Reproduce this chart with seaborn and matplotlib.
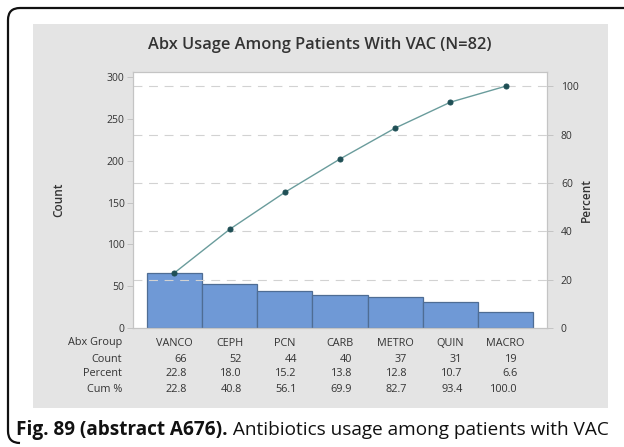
import matplotlib
matplotlib.use("Agg")
import matplotlib.pyplot as plt
import matplotlib.patches as mpatches
from matplotlib.path import Path
from matplotlib.transforms import blended_transform_factory
import seaborn as sns
import pandas as pd

# Pareto data: antibiotic groups, counts and percentages
groups = ["VANCO", "CEPH", "PCN", "CARB", "METRO", "QUIN", "MACRO"]
counts = [66, 52, 44, 40, 37, 31, 19]
percent = [22.8, 18.0, 15.2, 13.8, 12.8, 10.7, 6.6]
cum_pct = [22.8, 40.8, 56.1, 69.9, 82.7, 93.4, 100.0]
count_ticks = [0, 50, 100, 150, 200, 250, 300]
pct_ticks = [0, 20, 40, 60, 80, 100]

title = "Abx Usage Among Patients With VAC (N=82)"
caption_bold = "Fig. 89 (abstract A676)."
caption_text = " Antibiotics usage among patients with VAC"

sns.set_theme(style="white")
plt.rcParams["font.family"] = ["Open Sans", "DejaVu Sans"]

W, H = 624, 447
fig = plt.figure(figsize=(W / 100, H / 100), dpi=100)
fig.patch.set_facecolor("white")


def fx(px):
    return px / W


def fy(py):
    return 1 - py / H


# grey chart panel behind the axes
panel = mpatches.Rectangle((fx(33), fy(408)), fx(608) - fx(33), fy(24) - fy(408),
                           transform=fig.transFigure, facecolor="#e4e4e4",
                           edgecolor="none", zorder=-10)
fig.patches.append(panel)

# black frame with rounded left corners
r = 12
verts = [
    (fx(W + 5), fy(8)), (fx(8 + r), fy(8)),
    (fx(8), fy(8)), (fx(8), fy(8 + r)),
    (fx(8), fy(443 - r)),
    (fx(8), fy(443)), (fx(8 + r), fy(443)),
]
codes = [Path.MOVETO, Path.LINETO, Path.CURVE3, Path.CURVE3,
         Path.LINETO, Path.CURVE3, Path.CURVE3]
frame = mpatches.PathPatch(Path(verts, codes), transform=fig.transFigure,
                           facecolor="none", edgecolor="#111111", lw=1.6, zorder=-5)
fig.patches.append(frame)

left, right, top, bottom = 133, 547, 72, 328
ax = fig.add_axes([fx(left), fy(bottom), fx(right) - fx(left), fy(top) - fy(bottom)])
ax.set_facecolor("white")

df = pd.DataFrame({"group": groups, "count": counts, "cum": cum_pct})

sns.barplot(data=df, x="group", y="count", ax=ax, color="#6f99d6",
            width=1.0, edgecolor="#4f6d94", linewidth=0.9, saturation=1, zorder=2)

total = sum(counts)
ymax = 306
ax.set_ylim(0, ymax)
ax.set_xlim(-0.75, len(groups) - 0.25)
ax.set_yticks(count_ticks)
ax.set_xticks([])
ax.set_xlabel("")
ax.set_ylabel("Count", fontsize=8.5, fontweight="semibold", color="#333333", labelpad=30)

ax2 = ax.twinx()
ax2.set_ylim(0, ymax / total * 100)
ax2.set_yticks(pct_ticks)
for t in pct_ticks[1:]:
    ax2.axhline(t, color="#d2d2d2", lw=0.8, ls=(0, (8, 6)), zorder=1)
sns.lineplot(x=list(range(len(groups))), y=cum_pct, ax=ax2, sort=False,
             color="#6a9c9c", lw=1.0, marker="o", markersize=3.6,
             markerfacecolor="#1f4f55", markeredgecolor="#1f4f55", zorder=3)
ax2.set_ylabel("Percent", fontsize=8.5, fontweight="semibold", color="#333333",
               rotation=90, labelpad=1)
ax2.set_xlim(-0.75, len(groups) - 0.25)

for a in (ax, ax2):
    for s in a.spines.values():
        s.set_color("#c4c4c4")
        s.set_linewidth(0.8)
    a.tick_params(axis="y", length=4, width=0.7, color="#c4c4c4",
                  labelsize=7.5, labelcolor="#333333", pad=2)
    a.grid(False)
ax.tick_params(axis="y", left=True, right=False)
ax2.tick_params(axis="y", right=True, left=False, pad=6)

# summary table under the bars
tr = blended_transform_factory(ax.transData, fig.transFigure)
row_y = [343, 359, 374, 389]
row_names = ["Abx Group", "Count", "Percent", "Cum %"]
tcol = "#333333"
fs_tab = 7.8
for name, y in zip(row_names, row_y):
    fig.text(fx(122), fy(y), name, ha="right", va="center", fontsize=fs_tab, color=tcol)
for i, g in enumerate(groups):
    ax.text(i, fy(row_y[0]), g, transform=tr, ha="center", va="center",
            fontsize=fs_tab, color=tcol)
    ax.text(i + 0.22, fy(row_y[1]), f"{counts[i]}", transform=tr, ha="right",
            va="center", fontsize=fs_tab, color=tcol)
    ax.text(i + 0.22, fy(row_y[2]), f"{percent[i]:.1f}", transform=tr, ha="right",
            va="center", fontsize=fs_tab, color=tcol)
    ax.text(i + 0.22, fy(row_y[3]), f"{cum_pct[i]:.1f}", transform=tr, ha="right",
            va="center", fontsize=fs_tab, color=tcol)

fig.text(fx(320), fy(45), title, ha="center", va="center", fontsize=11.8,
         fontweight="semibold", color="#333333")

cap = fig.text(fx(16), fy(430), caption_bold, ha="left", va="center",
               fontsize=13.7, fontweight="bold", color="#111111")
fig.canvas.draw()
bb = cap.get_window_extent()
fig.text(bb.x1 / W, fy(430), caption_text, ha="left", va="center",
         fontsize=13.7, color="#111111")

fig.savefig("out.png", dpi=100, facecolor=fig.get_facecolor())
